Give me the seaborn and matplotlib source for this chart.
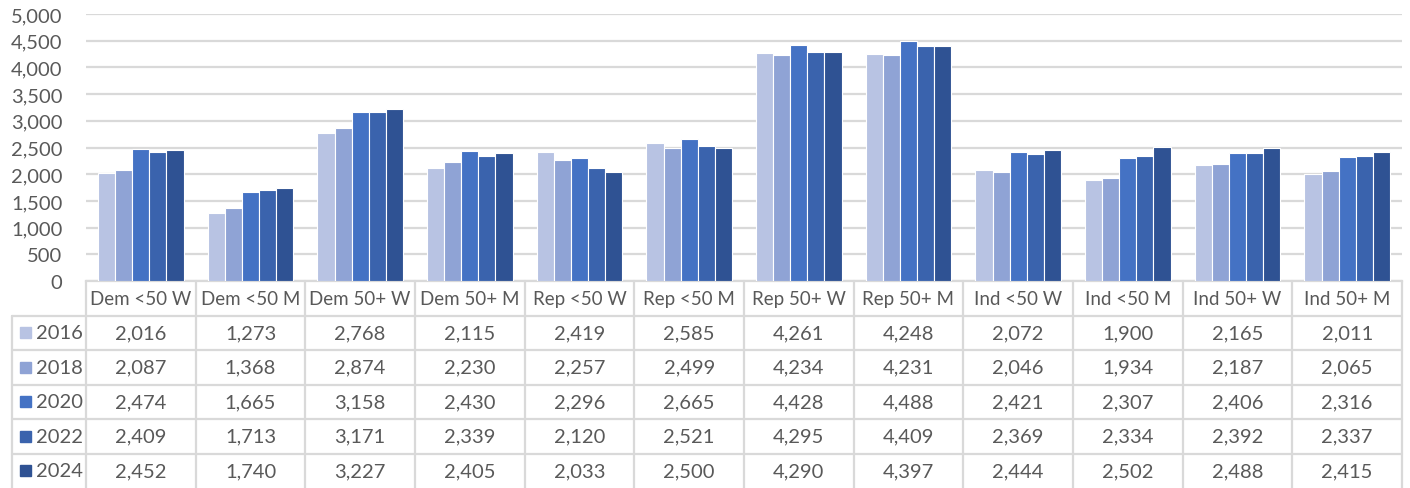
import matplotlib
matplotlib.use("Agg")
import matplotlib.pyplot as plt
import seaborn as sns
import pandas as pd
from matplotlib.patches import Rectangle

categories = ["Dem <50 W", "Dem <50 M", "Dem 50+ W", "Dem 50+ M",
              "Rep <50 W", "Rep <50 M", "Rep 50+ W", "Rep 50+ M",
              "Ind <50 W", "Ind <50 M", "Ind 50+ W", "Ind 50+ M"]
years = ["2016", "2018", "2020", "2022", "2024"]
v2016 = [2016, 1273, 2768, 2115, 2419, 2585, 4261, 4248, 2072, 1900, 2165, 2011]
v2018 = [2087, 1368, 2874, 2230, 2257, 2499, 4234, 4231, 2046, 1934, 2187, 2065]
v2020 = [2474, 1665, 3158, 2430, 2296, 2665, 4428, 4488, 2421, 2307, 2406, 2316]
v2022 = [2409, 1713, 3171, 2339, 2120, 2521, 4295, 4409, 2369, 2334, 2392, 2337]
v2024 = [2452, 1740, 3227, 2405, 2033, 2500, 4290, 4397, 2444, 2502, 2488, 2415]
series = [v2016, v2018, v2020, v2022, v2024]
colors = ["#B8C3E3", "#8FA3D5", "#4472C4", "#3A63AD", "#2F5293"]

rows = []
for y, vals in zip(years, series):
    for c, v in zip(categories, vals):
        rows.append({"category": c, "year": y, "value": v})
df = pd.DataFrame(rows)

sns.set_theme(style="white")
plt.rcParams["font.family"] = ["Lato", "DejaVu Sans"]
TXT = "#595959"
GRID = "#D9D9D9"
FS = 14.5
FSH = 13.5

W, H = 1410, 489
fig = plt.figure(figsize=(W / 100, H / 100), dpi=100)
x0, x1 = 86, 1402
ytop, ybase, ybot = 15, 282, 489
ax = fig.add_axes([x0 / W, 1 - ybase / H, (x1 - x0) / W, (ybase - ytop) / H])

sns.barplot(data=df, x="category", y="value", hue="year", palette=colors,
            order=categories, hue_order=years, width=0.78, gap=0, saturation=1,
            edgecolor="white", linewidth=0.8, legend=False, ax=ax, zorder=3)
ax.set_xlim(-0.5, len(categories) - 0.5)
ax.set_ylim(0, 5000)
ax.set_yticks(range(0, 5001, 500))
ax.set_yticklabels([f"{t:,}" for t in range(0, 5001, 500)], fontsize=FS, color=TXT)
ax.tick_params(axis="y", length=0, pad=17)
ax.tick_params(axis="x", length=0, labelbottom=False)
ax.set_xlabel("")
ax.set_ylabel("")
ax.yaxis.grid(True, color=GRID, linewidth=1.6, zorder=0)
ax.set_axisbelow(True)
for s in ["top", "right", "left"]:
    ax.spines[s].set_visible(False)
ax.spines["bottom"].set_color(GRID)
ax.spines["bottom"].set_linewidth(1.6)

# data table
tab = fig.add_axes([x0 / W, 0, (x1 - x0) / W, (ybot - ybase) / H])
tab.set_xlim(-0.5, len(categories) - 0.5)
tab.set_ylim(6, 0)
tab.axis("off")
unit = (x1 - x0) / len(categories)
xl = -0.5 - (x0 - 12) / unit
lk = dict(color=GRID, linewidth=1.6, clip_on=False)
for i in range(len(categories) + 1):
    tab.plot([-0.5 + i, -0.5 + i], [0, 6], **lk)
tab.plot([xl, xl], [1, 6], **lk)
for r in range(1, 6):
    tab.plot([xl, len(categories) - 0.5], [r, r], **lk)
for i, c in enumerate(categories):
    tab.text(i, 0.5, c, ha="center", va="center", fontsize=FSH, color=TXT)
for r, (y, vals, col) in enumerate(zip(years, series, colors), start=1):
    for i, v in enumerate(vals):
        tab.text(i, r + 0.5, f"{v:,}", ha="center", va="center", fontsize=FS, color=TXT)
    sq_w = 11 / unit
    sq_x = -0.5 - (x0 - 20) / unit
    tab.add_patch(Rectangle((sq_x, r + 0.5 - 0.16), sq_w, 0.32, color=col, clip_on=False))
    tab.text(-0.5 - (x0 - 36) / unit, r + 0.5, y,
             ha="left", va="center", fontsize=FS, color=TXT)

fig.savefig("out.png", dpi=100)
